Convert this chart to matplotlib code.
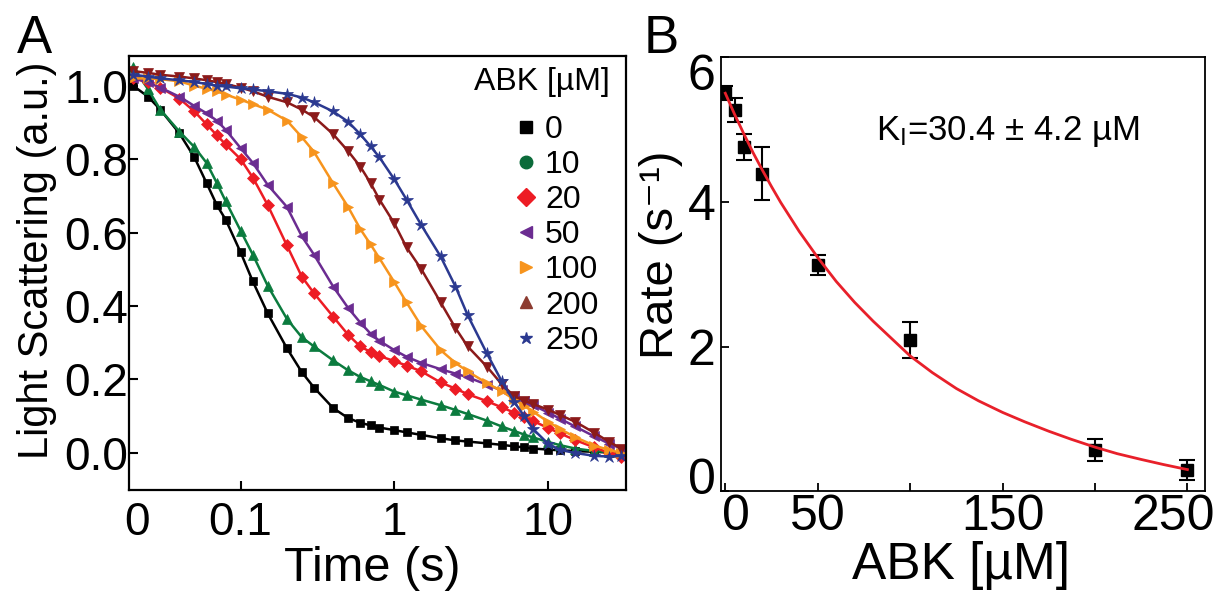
import matplotlib
matplotlib.use('Agg')
import matplotlib.pyplot as plt
from matplotlib.lines import Line2D
from matplotlib.transforms import ScaledTranslation

plt.rcParams['font.family'] = ['Liberation Sans', 'DejaVu Sans']
plt.rcParams['mathtext.fontset'] = 'custom'
plt.rcParams['mathtext.rm'] = 'Liberation Sans'
plt.rcParams['mathtext.it'] = 'Liberation Sans:italic'
plt.rcParams['mathtext.default'] = 'regular'

# Panel A: light scattering traces
time_s = [0.02, 0.025, 0.03, 0.04, 0.05, 0.06, 0.07, 0.08, 0.1, 0.12, 0.15, 0.2,
          0.25, 0.3, 0.4, 0.5, 0.6, 0.7, 0.8, 1.0, 1.2, 1.5, 2, 2.5, 3, 4, 5, 6,
          7, 8, 10, 12, 15, 20, 25, 30]
ls_0 = [1.00, 0.97, 0.935, 0.87, 0.805, 0.735, 0.675, 0.635, 0.546, 0.467, 0.38, 0.285,
        0.22, 0.178, 0.122, 0.095, 0.082, 0.075, 0.069, 0.062, 0.056, 0.049, 0.040, 0.034,
        0.031, 0.026, 0.022, 0.018, 0.015, 0.012, 0.009, 0.007, 0.005, 0.003, 0.001, 0.0]
ls_10 = [1.05, 0.99, 0.935, 0.875, 0.833, 0.79, 0.735, 0.685, 0.605, 0.54, 0.455, 0.365,
         0.315, 0.29, 0.252, 0.225, 0.207, 0.195, 0.185, 0.167, 0.157, 0.145, 0.13, 0.117,
         0.106, 0.088, 0.072, 0.060, 0.050, 0.042, 0.030, 0.021, 0.012, 0.005, 0.002, 0.0]
ls_20 = [1.02, 1.01, 0.995, 0.965, 0.93, 0.895, 0.865, 0.84, 0.80, 0.75, 0.675, 0.565,
         0.48, 0.435, 0.371, 0.322, 0.290, 0.275, 0.264, 0.250, 0.238, 0.222, 0.192, 0.175,
         0.160, 0.141, 0.124, 0.110, 0.098, 0.087, 0.068, 0.053, 0.035, 0.015, 0.0, -0.01]
ls_50 = [1.02, 1.01, 0.995, 0.97, 0.945, 0.925, 0.905, 0.88, 0.83, 0.79, 0.73, 0.67,
         0.59, 0.54, 0.453, 0.395, 0.355, 0.325, 0.305, 0.28, 0.262, 0.245, 0.228, 0.216,
         0.206, 0.186, 0.170, 0.155, 0.142, 0.130, 0.110, 0.093, 0.072, 0.045, 0.025, 0.012]
ls_100 = [1.02, 1.02, 1.018, 1.012, 1.0, 0.992, 0.985, 0.976, 0.962, 0.95, 0.935, 0.905,
          0.86, 0.82, 0.734, 0.67, 0.61, 0.568, 0.53, 0.465, 0.41, 0.345, 0.28, 0.245,
          0.222, 0.19, 0.168, 0.146, 0.128, 0.112, 0.085, 0.065, 0.043, 0.020, 0.008, 0.0]
ls_200 = [1.04, 1.035, 1.03, 1.025, 1.02, 1.015, 1.01, 1.005, 0.995, 0.985, 0.97, 0.955,
          0.935, 0.915, 0.868, 0.822, 0.78, 0.735, 0.69, 0.625, 0.56, 0.50, 0.41, 0.34,
          0.29, 0.235, 0.187, 0.155, 0.142, 0.133, 0.118, 0.103, 0.085, 0.055, 0.030, 0.012]
ls_250 = [1.03, 1.025, 1.02, 1.015, 1.01, 1.005, 1.0, 0.998, 0.993, 0.99, 0.985, 0.978,
          0.968, 0.955, 0.93, 0.902, 0.868, 0.835, 0.805, 0.745, 0.69, 0.62, 0.535, 0.453,
          0.375, 0.271, 0.195, 0.14, 0.10, 0.065, 0.025, 0.008, 0.0, -0.008, -0.01, -0.008]
traces = [ls_0, ls_10, ls_20, ls_50, ls_100, ls_200, ls_250]
abk_labels = ['0', '10', '20', '50', '100', '200', '250']
colors = ['#000000', '#0b7b3e', '#ed1c24', '#6b2c91', '#f7941d', '#8b1a1a', '#2b3990']
plot_markers = ['s', '^', 'D', '<', '>', 'v', '*']
plot_msize = [6, 7, 6, 7, 7, 7, 9]
legend_markers = ['s', 'o', 'D', '<', '>', '^', '*']
legend_colors = ['#000000', '#0b6b3a', '#ed1c24', '#6b2c91', '#f7941d', '#8c3b30', '#2b3990']

# Panel B: rates vs ABK with fit curve
abk_uM = [0, 5, 10, 20, 50, 100, 200, 250]
rate = [5.50, 5.27, 4.76, 4.39, 3.13, 2.09, 0.57, 0.29]
rate_err = [0.10, 0.17, 0.18, 0.36, 0.14, 0.25, 0.15, 0.14]
fit_abk = [0, 5, 10, 15, 20, 25, 30, 40, 50, 60, 70, 80, 90, 100, 112, 125, 137,
           150, 162, 175, 187, 200, 212, 225, 237, 250]
fit_rate = [5.50, 5.21, 4.94, 4.68, 4.44, 4.21, 3.99, 3.59, 3.23, 2.90, 2.61, 2.35,
            2.11, 1.87, 1.64, 1.42, 1.25, 1.09, 0.96, 0.83, 0.72, 0.61, 0.52, 0.44,
            0.37, 0.30]

fig = plt.figure(figsize=(12.19, 5.94), dpi=100)
axA = fig.add_axes([0.1062, 0.1751, 0.4074, 0.7306])
axB = fig.add_axes([0.5915, 0.1729, 0.3970, 0.7311])

# ---- A ----
for vals, c, m, ms in zip(traces, colors, plot_markers, plot_msize):
    axA.plot(time_s, vals, color=c, lw=1.8, marker=m, ms=ms, mec=c, mew=0.5)

axA.set_xscale('log')
axA.set_xlim(0.0189, 32.2)
axA.set_ylim(-0.101, 1.081)
axA.set_xticks([0.0211, 0.1, 1, 10])
axA.set_xticklabels(['0', '0.1', '1', '10'])
axA.minorticks_off()
axA.set_yticks([0.0, 0.2, 0.4, 0.6, 0.8, 1.0])
axA.set_yticklabels(['0.0', '0.2', '0.4', '0.6', '0.8', '1.0'])
axA.tick_params(axis='both', direction='in', length=6.5, width=1.5, labelsize=33)
axA.tick_params(axis='y', pad=1)
axA.tick_params(axis='x', pad=8)
axA.xaxis.get_major_ticks()[0].tick1line.set_visible(False)
for s in axA.spines.values():
    s.set_linewidth(1.6)
axA.set_xlabel('Time (s)', fontsize=35)
axA.xaxis.set_label_coords(0.489, -0.128)
axA.set_ylabel('Light Scattering (a.u.)', fontsize=30)
axA.yaxis.set_label_coords(-0.146, 0.53)

handles = [Line2D([], [], ls='none', marker=m, color=c, ms=9)
           for m, c in zip(legend_markers, legend_colors)]
axA.legend(handles, abk_labels, loc='upper left', bbox_to_anchor=(0.7725, 0.864),
           frameon=False, fontsize=23, labelspacing=0.16, handlelength=0.8,
           handletextpad=0.2, borderpad=0, borderaxespad=0)
axA.text(0.9678, 0.940, 'ABK [\u00b5M]', transform=axA.transAxes, fontsize=23,
         ha='right', va='center')

# ---- B ----
axB.errorbar(abk_uM, rate, yerr=rate_err, fmt='s', color='black', ms=9,
             capsize=5.5, elinewidth=1.5, capthick=1.5, zorder=2)
axB.plot(fit_abk, fit_rate, color='#e8202a', lw=2.0, zorder=3)
axB.set_xlim(-2.3, 259.5)
axB.set_ylim(0, 6)
axB.set_xticks([0, 50, 100, 150, 200, 250])
axB.set_xticklabels(['0', '50', '', '150', '', '250'])
axB.set_yticks([0, 2, 4, 6])
axB.set_yticklabels(['0', '2', '4', '6'])
axB.tick_params(axis='both', direction='in', length=6, width=1.3, labelsize=36)
axB.tick_params(axis='y', pad=4)
axB.tick_params(axis='x', pad=2)
for s in axB.spines.values():
    s.set_linewidth(1.3)
axB.set_xlabel('ABK [\u00b5M]', fontsize=37)
axB.xaxis.set_label_coords(0.495, -0.114)
axB.set_ylabel('Rate (s\u207b\u00b9)', fontsize=34)
axB.yaxis.set_label_coords(-0.078, 0.544)
axB.text(0.32, 0.809, 'K$_{I}$=30.4 \u00b1 4.2 \u00b5M', transform=axB.transAxes,
         fontsize=25, va='baseline', ha='left')

# nudge the edge tick labels like in the original figure
def nudge(label, dx, dy):
    label.set_transform(label.get_transform() +
                        ScaledTranslation(dx / 100, dy / 100, fig.dpi_scale_trans))

xl = axB.get_xticklabels()
nudge(xl[0], 11, 0)
nudge(xl[-1], -14, 0)
yl = axB.get_yticklabels()
nudge(yl[0], 0, 15)
nudge(yl[-1], 0, -15)

fig.text(16.6 / 1219, 1 - 53 / 594, 'A', fontsize=38, va='baseline', ha='left')
fig.text(644 / 1219, 1 - 53 / 594, 'B', fontsize=38, va='baseline', ha='left')

fig.savefig('out.png', dpi=100)
